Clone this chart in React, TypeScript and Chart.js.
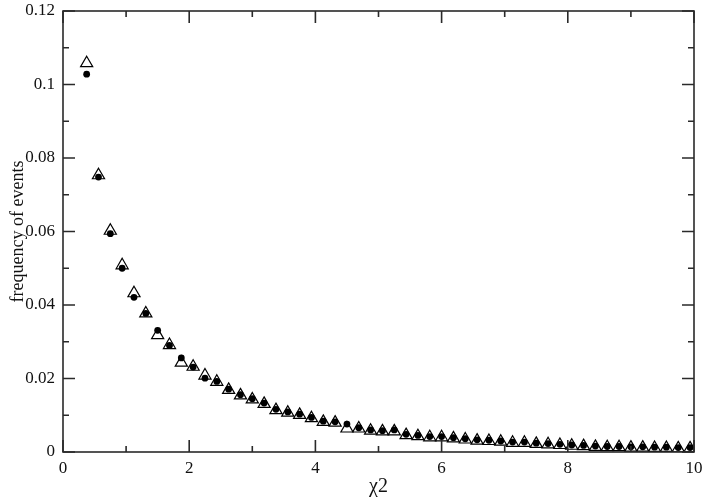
import React, { useEffect, useRef } from "react";
import { Chart, registerables } from "chart.js";

Chart.register(...registerables);

const xValues = [
  0.375, 0.5625, 0.75, 0.9375, 1.125, 1.3125, 1.5, 1.6875, 1.875, 2.0625,
  2.25, 2.4375, 2.625, 2.8125, 3.0, 3.1875, 3.375, 3.5625, 3.75, 3.9375,
  4.125, 4.3125, 4.5, 4.6875, 4.875, 5.0625, 5.25, 5.4375, 5.625, 5.8125,
  6.0, 6.1875, 6.375, 6.5625, 6.75, 6.9375, 7.125, 7.3125, 7.5, 7.6875,
  7.875, 8.0625, 8.25, 8.4375, 8.625, 8.8125, 9.0, 9.1875, 9.375, 9.5625,
  9.75, 9.9375,
];

const triangleValues = [
  0.1058, 0.0753, 0.0602, 0.0508, 0.0432, 0.0377, 0.0318, 0.0291, 0.0243, 0.0232,
  0.0208, 0.0191, 0.0169, 0.0154, 0.0143, 0.0131, 0.0114, 0.0107, 0.0101, 0.0092,
  0.0082, 0.0080, 0.0064, 0.0064, 0.0058, 0.0056, 0.0056, 0.0046, 0.0043, 0.0040,
  0.0040, 0.0037, 0.0034, 0.0031, 0.0030, 0.0028, 0.0025, 0.0025, 0.0022, 0.0021,
  0.0019, 0.0017, 0.0016, 0.0014, 0.0013, 0.0013, 0.0012, 0.0012, 0.0011, 0.0011,
  0.0010, 0.0010,
];

const circleValues = [
  0.1028, 0.0748, 0.0594, 0.0500, 0.0421, 0.0377, 0.0331, 0.0290, 0.0256, 0.0231,
  0.0201, 0.0192, 0.0171, 0.0156, 0.0145, 0.0133, 0.0116, 0.0109, 0.0103, 0.0094,
  0.0084, 0.0082, 0.0076, 0.0066, 0.0060, 0.0058, 0.0060, 0.0048, 0.0045, 0.0042,
  0.0042, 0.0039, 0.0036, 0.0033, 0.0032, 0.0030, 0.0027, 0.0027, 0.0024, 0.0023,
  0.0021, 0.0019, 0.0018, 0.0016, 0.0015, 0.0015, 0.0014, 0.0014, 0.0013, 0.0013,
  0.0012, 0.0012,
];

const xMajorTicks = [0, 2, 4, 6, 8, 10];
const xMinorTicks = [1, 3, 5, 7, 9];
const yMajorTicks = [0, 0.02, 0.04, 0.06, 0.08, 0.1, 0.12];
const yMinorTicks = [0.01, 0.03, 0.05, 0.07, 0.09, 0.11];

const xTitle = "\u03c72";
const yTitle = "frequency of events";

const SERIF = "'Liberation Serif', 'Times New Roman', serif";

const frameTicks = {
  id: "frameTicks",
  afterDatasetsDraw(chart: any) {
    const { ctx, chartArea: a, scales } = chart;
    const x = scales.x;
    const y = scales.y;
    ctx.save();
    ctx.strokeStyle = "#2a2a2a";
    ctx.lineWidth = 1.6;
    ctx.strokeRect(a.left, a.top, a.right - a.left, a.bottom - a.top);
    ctx.beginPath();
    const xt = (vals: number[], len: number) => {
      for (const v of vals) {
        const px = x.getPixelForValue(v);
        ctx.moveTo(px, a.bottom);
        ctx.lineTo(px, a.bottom - len);
        ctx.moveTo(px, a.top);
        ctx.lineTo(px, a.top + len);
      }
    };
    const yt = (vals: number[], len: number) => {
      for (const v of vals) {
        const py = y.getPixelForValue(v);
        ctx.moveTo(a.left, py);
        ctx.lineTo(a.left + len, py);
        ctx.moveTo(a.right, py);
        ctx.lineTo(a.right - len, py);
      }
    };
    xt(xMajorTicks, 12);
    xt(xMinorTicks, 6);
    yt(yMajorTicks, 12);
    yt(yMinorTicks, 6);
    ctx.stroke();
    ctx.restore();
  },
};

export default function App() {
  const ref = useRef<HTMLCanvasElement | null>(null);

  useEffect(() => {
    if (!ref.current) return;
    const chart = new Chart(ref.current, {
      type: "scatter",
      data: {
        datasets: [
          {
            label: "circles",
            data: xValues.map((x, i) => ({ x, y: circleValues[i] })),
            pointStyle: "circle",
            pointRadius: 3.4,
            pointHoverRadius: 3.4,
            backgroundColor: "#000",
            borderColor: "#000",
            borderWidth: 0,
            order: 0,
          },
          {
            label: "triangles",
            data: xValues.map((x, i) => ({ x, y: triangleValues[i] })),
            pointStyle: "triangle",
            pointRadius: 7,
            pointHoverRadius: 7,
            backgroundColor: "#fff",
            borderColor: "#000",
            borderWidth: 1.2,
            order: 1,
          },
        ],
      },
      options: {
        animation: false,
        responsive: false,
        layout: { padding: { left: 0, right: 15, top: 11, bottom: 0 } },
        plugins: {
          legend: { display: false },
          tooltip: { enabled: false },
        },
        scales: {
          x: {
            type: "linear",
            min: 0,
            max: 10,
            grid: { display: false, drawTicks: false },
            border: { display: false },
            ticks: {
              stepSize: 2,
              padding: 6,
              color: "#111",
              font: { family: SERIF, size: 17 },
              callback: (v: any) => String(v),
            },
            title: {
              display: true,
              text: xTitle,
              color: "#111",
              font: { family: SERIF, size: 20 },
              padding: { top: 0, bottom: 0 },
            },
            afterFit: (s: any) => {
              s.height = 47;
              s.paddingLeft = 0;
              s.paddingRight = 0;
            },
          },
          y: {
            type: "linear",
            min: 0,
            max: 0.12,
            grid: { display: false, drawTicks: false },
            border: { display: false },
            ticks: {
              stepSize: 0.02,
              padding: 8,
              color: "#111",
              font: { family: SERIF, size: 17 },
              callback: (v: any) => String(Number(Number(v).toFixed(2))),
            },
            title: {
              display: true,
              text: yTitle,
              color: "#111",
              font: { family: SERIF, size: 18 },
              padding: { top: 7, bottom: 0 },
            },
            afterFit: (s: any) => {
              s.width = 63;
              s.paddingTop = 0;
              s.paddingBottom = 0;
            },
          },
        },
      },
      plugins: [frameTicks],
    });
    return () => chart.destroy();
  }, []);

  return (
    <div style={{ position: "fixed", left: 0, top: 0, width: 709, height: 499, background: "#fff" }}>
      <canvas ref={ref} width={709} height={499} style={{ width: 709, height: 499 }} />
    </div>
  );
}
